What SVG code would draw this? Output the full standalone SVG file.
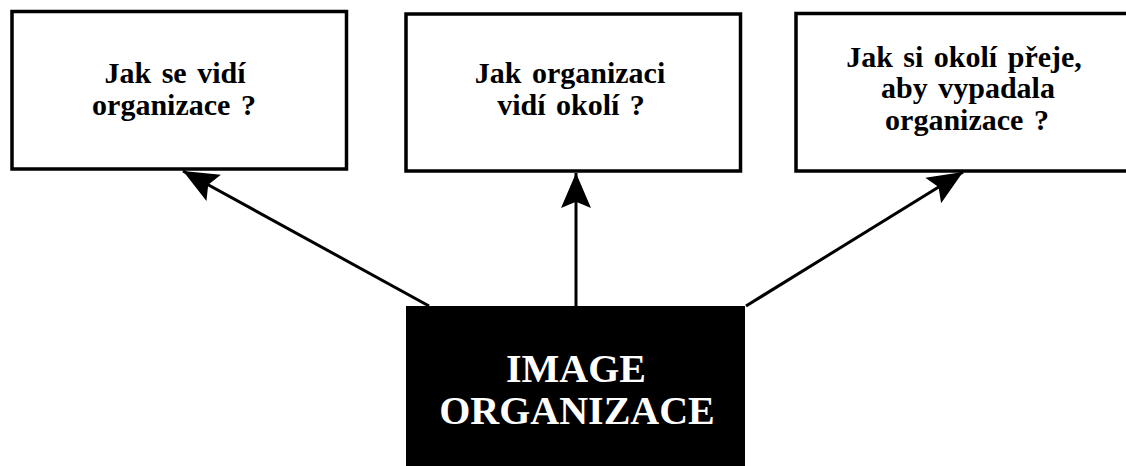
<svg xmlns="http://www.w3.org/2000/svg" width="1126" height="466" viewBox="0 0 1126 466">
<style>
.box{fill:#fff;stroke:#000;stroke-width:3.5}
.q{font-family:"Liberation Serif","Times New Roman",serif;font-weight:bold;font-size:30px;word-spacing:3px;fill:#000;text-anchor:middle}
.main{font-family:"Liberation Serif","Times New Roman",serif;font-weight:bold;font-size:40px;fill:#fff;text-anchor:middle}
.conn{stroke:#000;stroke-width:3;fill:none}
</style>
<defs>
<marker id="arr" markerUnits="userSpaceOnUse" markerWidth="40" markerHeight="40" viewBox="-30 -15 32 30" refX="0" refY="0" orient="auto">
<path d="M0,0 L-28,-12 L-23,0 L-28,12 Z" fill="#000"/>
</marker>
</defs>
<rect width="1126" height="466" fill="#fff"/>
<g id="node-self">
<rect class="box" x="12" y="11.5" width="334.5" height="157.5"/>
<text class="q" x="175" y="83">Jak se vidí</text>
<text class="q" x="174" y="115">organizace ?</text>
</g>
<g id="node-seen">
<rect class="box" x="406" y="14" width="334.5" height="157"/>
<text class="q" x="570" y="83">Jak organizaci</text>
<text class="q" x="571" y="115">vidí okolí ?</text>
</g>
<g id="node-wish">
<rect class="box" x="796" y="13.5" width="340" height="157.5"/>
<text class="q" x="964" y="67">Jak si okolí přeje,</text>
<text class="q" x="968" y="98">aby vypadala</text>
<text class="q" x="967" y="130">organizace ?</text>
</g>
<g id="node-image">
<rect x="406" y="306" width="339" height="165" fill="#000"/>
<text class="main" x="576" y="382">IMAGE</text>
<text class="main" x="577" y="424">ORGANIZACE</text>
</g>
<g id="connectors">
<line class="conn" x1="429" y1="306" x2="183" y2="171" marker-end="url(#arr)"/>
<line class="conn" x1="576" y1="306" x2="576" y2="173" marker-end="url(#arr)"/>
<line class="conn" x1="746" y1="306" x2="963" y2="172" marker-end="url(#arr)"/>
</g>
</svg>
